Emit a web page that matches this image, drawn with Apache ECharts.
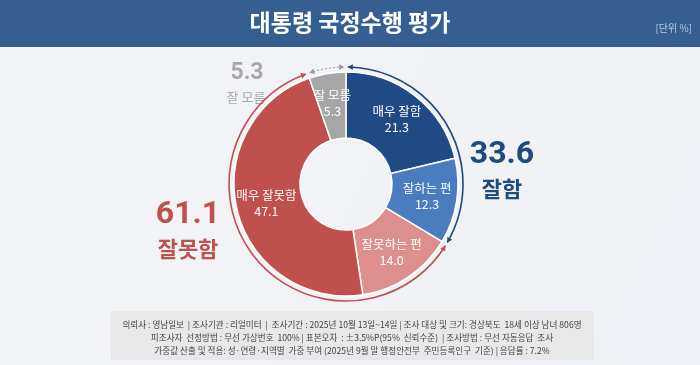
<!DOCTYPE html>
<html><head><meta charset="utf-8">
<script src="https://cdn.jsdelivr.net/npm/echarts@6/dist/echarts.min.js"></script>
<style>html,body{margin:0;padding:0;}#c{width:700px;height:365px;}</style>
</head><body><div id="c"></div>
<script>
const categories = ['매우 잘함', '잘하는 편', '잘못하는 편', '매우 잘못함', '잘 모름'];
const values = [21.3, 12.3, 14.0, 47.1, 5.3];
const groupNames = ['잘함', '잘못함', '잘 모름'];
const groupValues = [33.6, 61.1, 5.3];
const titleText = '대통령 국정수행 평가';
const unitText = '[단위 %]';
const footerLines = [
  '의뢰사 : 영남일보  | 조사기관 : 리얼미터  |  조사기간 : 2025년 10월 13일~14일 | 조사 대상 및 크기: 경상북도  18세 이상 남녀 806명',
  '피조사자  선정방법 : 무선 가상번호  100% | 표본오차  : ±3.5%P(95%  신뢰수준)  | 조사방법 : 무선 자동응답  조사',
  '가중값 산출 및 적용: 성·연령·지역별  가중 부여 (2025년 9월 말 행정안전부  주민등록인구  기준) | 응답률 : 7.2%'
];

const FONT = '"Noto Sans CJK KR", "Noto Sans", sans-serif';
const NUMFONT = 'Roboto, "Noto Sans CJK KR", sans-serif';
const CX = 346, CY = 184, R0 = 46, R1 = 112, RA = 117;
const sliceColors = ['#1f4a84', '#4a7dbf', '#dc8f8d', '#c0504d', '#a6a6a6'];
const groupColors = ['#1f4a7c', '#c0504d', '#a8a8a8'];

const arcData = [];
let acc = 0;
groupValues.forEach((v, i) => { arcData.push([acc, acc + v, i]); acc += v; });

const chart = echarts.init(document.getElementById('c'), null, {renderer: 'canvas'});

function arrow(px, py, dx, dy, nx, ny, color) {
  const L = 5, W = 2.8;
  return {
    type: 'polygon',
    shape: {points: [[px, py], [px - L * dx + W * nx, py - L * dy + W * ny], [px - L * dx - W * nx, py - L * dy - W * ny]]},
    style: {fill: color}
  };
}
function txt(x, y, text, color, font) {
  return {type: 'text', x: x, y: y, style: {text: text, fill: color, font: font, textAlign: 'center', textVerticalAlign: 'middle'}};
}

const graphics = [
  {type: 'rect', left: 0, top: 0, shape: {width: 700, height: 47}, style: {fill: '#365f91'}},
  txt(350, 22, titleText, '#ffffff', 'bold 23px ' + FONT),
  {type: 'text', x: 692, y: 28, style: {text: unitText, fill: '#b9c9de', font: '10px ' + FONT, textAlign: 'right', textVerticalAlign: 'middle'}},
  {type: 'rect', left: 111, top: 311, shape: {width: 483, height: 49}, style: {fill: '#e8e8e8'}},
  txt(502, 155, groupValues[0].toFixed(1), groupColors[0], 'bold 32px ' + NUMFONT),
  txt(502, 189, groupNames[0], groupColors[0], 'bold 22px ' + FONT),
  txt(188, 215, groupValues[1].toFixed(1), groupColors[1], 'bold 32px ' + NUMFONT),
  txt(188, 249, groupNames[1], groupColors[1], 'bold 22px ' + FONT),
  txt(247, 73, groupValues[2].toFixed(1), groupColors[2], 'bold 23px ' + NUMFONT),
  txt(246, 97, groupNames[2], groupColors[2], '13px ' + FONT)
];
footerLines.forEach((l, i) => graphics.push(txt(352, 325 + i * 13, l, '#444444', '8.6px ' + FONT)));

const option = {
  backgroundColor: {
    type: 'linear', x: 0, y: 0, x2: 1, y2: 1,
    colorStops: [{offset: 0, color: '#f3f4f7'}, {offset: 1, color: '#eef1f5'}]
  },
  graphic: graphics,
  series: [
    {
      type: 'pie',
      center: [CX, CY],
      radius: [R0, R1],
      startAngle: 90,
      clockwise: true,
      silent: true,
      animation: false,
      itemStyle: {borderColor: '#ffffff', borderWidth: 1.5},
      label: {
        position: 'inside',
        color: '#ffffff',
        fontFamily: FONT,
        fontSize: 12.5,
        lineHeight: 16,
        formatter: p => p.name + '\n' + p.value.toFixed(1)
      },
      labelLine: {show: false},
      data: categories.map((c, i) => ({name: c, value: values[i], itemStyle: {color: sliceColors[i]}}))
    },
    {
      type: 'custom',
      coordinateSystem: 'none',
      silent: true,
      animation: false,
      data: arcData,
      renderItem: function (params, api) {
        const s = api.value(0), e = api.value(1), k = api.value(2);
        const gap = 0.9 * Math.PI / 180;
        const a0 = s / 100 * 2 * Math.PI - Math.PI / 2 + gap;
        const a1 = e / 100 * 2 * Math.PI - Math.PI / 2 - gap;
        const color = k === 0 ? '#1f4a7c' : (k === 1 ? '#c0504d' : '#9a9a9a');
        const children = [{
          type: 'arc',
          shape: {cx: CX, cy: CY, r: RA, startAngle: a0, endAngle: a1, clockwise: true},
          style: {stroke: color, lineWidth: k === 2 ? 1 : 1.6, fill: null, lineDash: k === 2 ? [2, 2] : null}
        }];
        let px = CX + RA * Math.cos(a1), py = CY + RA * Math.sin(a1);
        children.push(arrow(px, py, -Math.sin(a1), Math.cos(a1), Math.cos(a1), Math.sin(a1), color));
        px = CX + RA * Math.cos(a0); py = CY + RA * Math.sin(a0);
        children.push(arrow(px, py, Math.sin(a0), -Math.cos(a0), Math.cos(a0), Math.sin(a0), color));
        return {type: 'group', children: children};
      }
    }
  ]
};
chart.setOption(option);
</script>
</body></html>
